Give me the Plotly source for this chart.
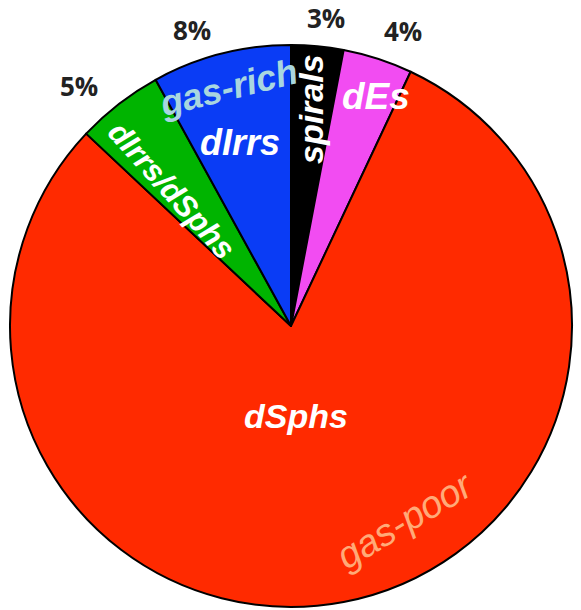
import plotly.graph_objects as go

# slice data, clockwise from 12 o'clock
types = ["spirals", "dEs", "dSphs", "dIrrs/dSphs", "dIrrs"]
shares = [3, 4, 80, 5, 8]
colours = ["#000000", "#F24CF2", "#FF2A00", "#00B400", "#0A3CF5"]

W, H = 581, 610


def px(x, y):
    return x / W, 1 - y / H


fig = go.Figure(go.Pie(
    labels=types,
    values=shares,
    sort=False,
    direction="clockwise",
    rotation=0,
    textinfo="none",
    hoverinfo="label+percent",
    marker=dict(colors=colours, line=dict(color="#000000", width=2)),
    domain=dict(x=[10 / W, 572 / W], y=[3 / H, 565 / H]),
    showlegend=False,
))

FONT = "Liberation Sans, Arial, sans-serif"
anns = []

# percentages outside the pie
pct_pos = {"spirals": (326, 18), "dEs": (403, 31), "dIrrs/dSphs": (79, 86), "dIrrs": (192, 30)}
for name, val in zip(types, shares):
    if name in pct_pos:
        x, y = px(*pct_pos[name])
        anns.append(dict(x=x, y=y, text=f"<b>{val}%</b>", textangle=0,
                         font=dict(family="Open Sans, sans-serif", size=26, color="#222222")))

# slice names inside
inside = [
    ("dSphs", (296, 416), 0, 34, "white", True),
    ("dIrrs", (240, 143), 0, 36, "white", True),
    ("dEs", (376, 96), 0, 37, "white", True),
    ("spirals", (311, 109), -90, 34, "white", True),
    ("dIrrs/dSphs", (172, 190), 48, 31, "white", True),
    ("gas-rich", (228, 88), -14, 36, "#A9D6DF", True),
    ("gas-poor", (405, 520), -31, 38, "#FFAA78", False),
]
for txt, (x0, y0), ang, size, col, bold in inside:
    x, y = px(x0, y0)
    t = f"<i>{txt}</i>"
    if bold:
        t = f"<b>{t}</b>"
    anns.append(dict(x=x, y=y, text=t, textangle=ang,
                     font=dict(family=FONT, size=size, color=col)))

for a in anns:
    a.update(xref="paper", yref="paper", showarrow=False, xanchor="center", yanchor="middle")

fig.update_layout(
    width=W, height=H,
    margin=dict(l=0, r=0, t=0, b=0),
    paper_bgcolor="white",
    plot_bgcolor="white",
    annotations=anns,
)

fig.write_html("out.html", config={"displayModeBar": False},
               post_script="document.body.style.margin='0px';")
